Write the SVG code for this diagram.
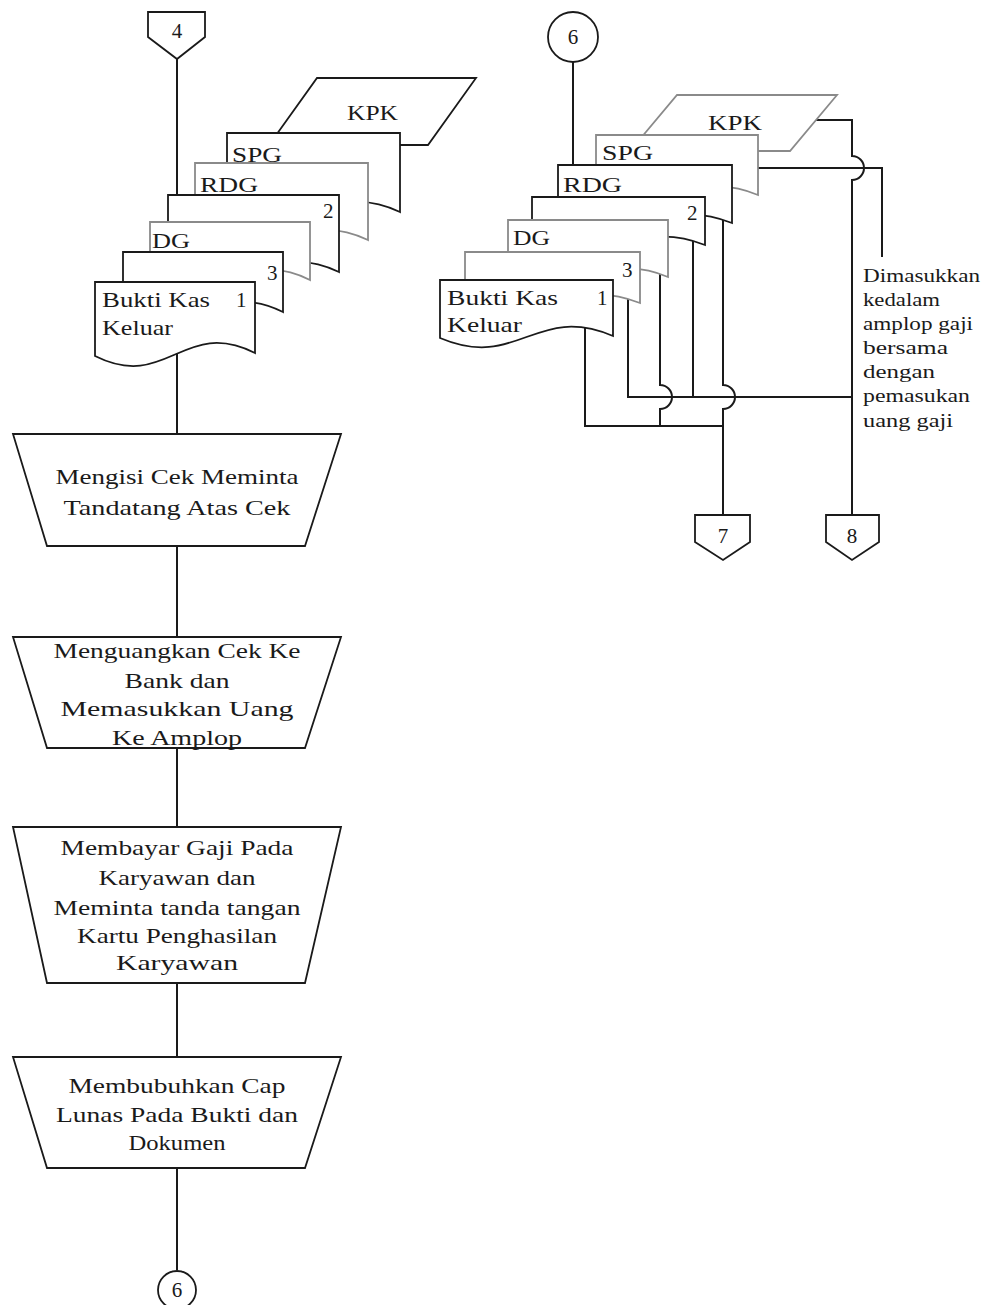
<svg xmlns="http://www.w3.org/2000/svg" width="987" height="1305" viewBox="0 0 987 1305">
<style>
.ln{fill:none;stroke:#1a1a1a;stroke-width:2}
.doc{fill:#fff;stroke:#1a1a1a;stroke-width:1.8}
.docg{fill:#fff;stroke:#8a8a8a;stroke-width:1.8}
.trap{fill:#fff;stroke:#1a1a1a;stroke-width:1.8}
.con{fill:#fff;stroke:#1a1a1a;stroke-width:1.8}
text{font-family:"Liberation Serif","Times New Roman",serif;fill:#1a1a1a}
.t{font-size:21px}
.d{font-size:21px}
.a{font-size:18px}
.c{font-size:21px;text-anchor:middle}
</style>
<rect width="987" height="1305" fill="#fff"/>
<g id="connectors">
<path class="ln" d="M177,59 V196"/>
<path class="ln" d="M177,348 V434"/>
<path class="ln" d="M177,546 V637"/>
<path class="ln" d="M177,748 V827"/>
<path class="ln" d="M177,983 V1057"/>
<path class="ln" d="M177,1168 V1270"/>
<path class="ln" d="M573,62 V166"/>
<path class="ln" d="M585,320 V426 H723"/>
<path class="ln" d="M628,285 V397 H852"/>
<path class="ln" d="M660,262 V385 A12,12 0 0 1 660,409 V426"/>
<path class="ln" d="M693,232 V397"/>
<path class="ln" d="M723,210 V385 A12,12 0 0 1 723,409 V515"/>
<path class="ln" d="M740,168 H882 V257"/>
<path class="ln" d="M800,120 H852 V156 A12,12 0 0 1 852,180 V515"/>
</g>
<g id="conn4"><path class="con" d="M148,12 H205 V37 L177,59 L148,37 Z"/><text class="c" x="177" y="38">4</text></g>
<g id="left-kpk"><polygon class="doc" points="317,78 476,78 428,145 269,145"/><text class="d" x="347" y="120" textLength="51" lengthAdjust="spacingAndGlyphs">KPK</text></g>
<g id="left-spg"><path class="doc" d="M227,133 H400 V212 C322,176 305,251 227,215 Z"/><text class="d" x="232" y="162" textLength="50" lengthAdjust="spacingAndGlyphs">SPG</text></g>
<g id="left-rdg"><path class="docg" d="M195,163 H368 V240 C290,204 273,279 195,243 Z"/><text class="d" x="200" y="192" textLength="58" lengthAdjust="spacingAndGlyphs">RDG</text></g>
<g id="left-doc2"><path class="doc" d="M168,195 H339 V272 C262,236 245,311 168,275 Z"/><text class="d" x="323" y="218">2</text></g>
<g id="left-dg"><path class="docg" d="M150,222 H310 V280 C238,244 222,319 150,283 Z"/><text class="d" x="152" y="248" textLength="38" lengthAdjust="spacingAndGlyphs">DG</text></g>
<g id="left-doc3"><path class="doc" d="M123,252 H283 V312 C211,276 195,351 123,315 Z"/><text class="d" x="267" y="280">3</text></g>
<g id="left-bkk"><path class="doc" d="M95,282 H255 V353 C183,317 167,392 95,356 Z"/><text class="d" x="102" y="307" textLength="108" lengthAdjust="spacingAndGlyphs">Bukti Kas</text><text class="d" x="236" y="307">1</text><text class="d" x="102" y="335" textLength="71" lengthAdjust="spacingAndGlyphs">Keluar</text></g>
<g id="proc1"><polygon class="trap" points="13,434 341,434 305,546 47,546"/><text class="t" x="55.5" y="484" textLength="243" lengthAdjust="spacingAndGlyphs">Mengisi Cek Meminta</text><text class="t" x="63.5" y="515" textLength="227" lengthAdjust="spacingAndGlyphs">Tandatang Atas Cek</text></g>
<g id="proc2"><polygon class="trap" points="13,637 341,637 305,748 47,748"/><text class="t" x="53.5" y="658" textLength="247" lengthAdjust="spacingAndGlyphs">Menguangkan Cek Ke</text><text class="t" x="124.5" y="688" textLength="105" lengthAdjust="spacingAndGlyphs">Bank dan</text><text class="t" x="60.5" y="716" textLength="233" lengthAdjust="spacingAndGlyphs">Memasukkan Uang</text><text class="t" x="112" y="745" textLength="130" lengthAdjust="spacingAndGlyphs">Ke Amplop</text></g>
<g id="proc3"><polygon class="trap" points="13,827 341,827 305,983 47,983"/><text class="t" x="60.5" y="855" textLength="233" lengthAdjust="spacingAndGlyphs">Membayar Gaji Pada</text><text class="t" x="98.5" y="885" textLength="157" lengthAdjust="spacingAndGlyphs">Karyawan dan</text><text class="t" x="53.5" y="915" textLength="247" lengthAdjust="spacingAndGlyphs">Meminta tanda tangan</text><text class="t" x="77" y="943" textLength="200" lengthAdjust="spacingAndGlyphs">Kartu Penghasilan</text><text class="t" x="116" y="970" textLength="122" lengthAdjust="spacingAndGlyphs">Karyawan</text></g>
<g id="proc4"><polygon class="trap" points="13,1057 341,1057 305,1168 47,1168"/><text class="t" x="68.5" y="1093" textLength="217" lengthAdjust="spacingAndGlyphs">Membubuhkan Cap</text><text class="t" x="56" y="1122" textLength="242" lengthAdjust="spacingAndGlyphs">Lunas Pada Bukti dan</text><text class="t" x="128.5" y="1150" textLength="97" lengthAdjust="spacingAndGlyphs">Dokumen</text></g>
<g id="circle6-bottom"><circle class="con" cx="177" cy="1290" r="19"/><text class="c" x="177" y="1297">6</text></g>
<g id="circle6-top"><circle class="con" cx="573" cy="37" r="25"/><text class="c" x="573" y="44">6</text></g>
<g id="right-kpk"><polygon class="docg" points="677,95 837,95 790,151 630,151"/><text class="d" x="708" y="130" textLength="54" lengthAdjust="spacingAndGlyphs">KPK</text></g>
<g id="right-spg"><path class="docg" d="M596,135 H758 V195 C685,165 669,228 596,198 Z"/><text class="d" x="602" y="160" textLength="51" lengthAdjust="spacingAndGlyphs">SPG</text></g>
<g id="right-rdg"><path class="doc" d="M558,165 H732 V223 C654,193 636,256 558,226 Z"/><text class="d" x="563" y="192" textLength="59" lengthAdjust="spacingAndGlyphs">RDG</text></g>
<g id="right-doc2"><path class="doc" d="M532,197 H705 V245 C627,215 610,278 532,248 Z"/><text class="d" x="687" y="220">2</text></g>
<g id="right-dg"><path class="docg" d="M508,220 H668 V277 C596,247 580,310 508,280 Z"/><text class="d" x="513" y="245" textLength="37" lengthAdjust="spacingAndGlyphs">DG</text></g>
<g id="right-doc3"><path class="docg" d="M465,252 H640 V303 C561,273 544,336 465,306 Z"/><text class="d" x="622" y="277">3</text></g>
<g id="right-bkk"><path class="doc" d="M440,280 H613 V336 C535,303 518,371 440,338 Z"/><text class="d" x="447" y="305" textLength="111" lengthAdjust="spacingAndGlyphs">Bukti Kas</text><text class="d" x="597" y="305">1</text><text class="d" x="447" y="332" textLength="75" lengthAdjust="spacingAndGlyphs">Keluar</text></g>
<g id="conn7"><path class="con" d="M695,515 H750 V542 L723,560 L695,542 Z"/><text class="c" x="723" y="543">7</text></g>
<g id="conn8"><path class="con" d="M826,515 H879 V542 L852,560 L826,542 Z"/><text class="c" x="852" y="543">8</text></g>
<g id="note">
<text class="a" x="863" y="282" textLength="117" lengthAdjust="spacingAndGlyphs">Dimasukkan</text>
<text class="a" x="863" y="306" textLength="77" lengthAdjust="spacingAndGlyphs">kedalam</text>
<text class="a" x="863" y="330" textLength="110" lengthAdjust="spacingAndGlyphs">amplop gaji</text>
<text class="a" x="863" y="354" textLength="85" lengthAdjust="spacingAndGlyphs">bersama</text>
<text class="a" x="863" y="378" textLength="72" lengthAdjust="spacingAndGlyphs">dengan</text>
<text class="a" x="863" y="402" textLength="107" lengthAdjust="spacingAndGlyphs">pemasukan</text>
<text class="a" x="863" y="427" textLength="90" lengthAdjust="spacingAndGlyphs">uang gaji</text>
</g>
</svg>
